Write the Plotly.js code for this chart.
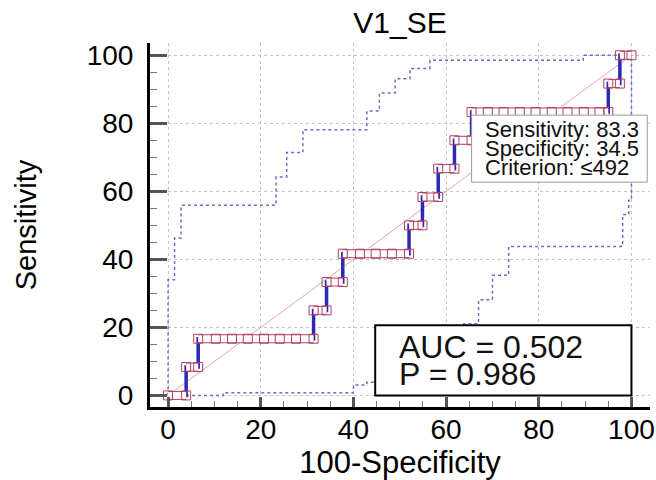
<!DOCTYPE html>
<html><head><meta charset="utf-8">
<script src="https://cdn.plot.ly/plotly-3.0.1.min.js"></script>
<style>html,body{margin:0;padding:0;background:#fff}#chart{width:656px;height:480px}</style>
</head><body><div id="chart"></div>
<script>
// ROC curve vertices (100-Specificity, Sensitivity)
const rocX = [0, 3.9, 3.9, 6.5, 6.5, 10.3, 13.8, 17.2, 20.7, 24.1, 27.6, 31.4, 31.4, 34.2, 34.2, 37.7, 37.7, 41.4, 44.8, 48.3, 52.0, 52.0, 54.9, 54.9, 58.3, 58.3, 61.8, 61.8, 65.5, 65.5, 69.0, 72.4, 75.9, 79.3, 82.8, 86.2, 89.7, 93.1, 95.0, 95.0, 97.5, 97.5, 100];
const rocY = [0, 0, 8.33, 8.33, 16.67, 16.67, 16.67, 16.67, 16.67, 16.67, 16.67, 16.67, 25, 25, 33.33, 33.33, 41.67, 41.67, 41.67, 41.67, 41.67, 50, 50, 58.33, 58.33, 66.67, 66.67, 75, 75, 83.33, 83.33, 83.33, 83.33, 83.33, 83.33, 83.33, 83.33, 83.33, 83.33, 91.67, 91.67, 100, 100];
// 95% confidence bounds
const upperX = [0, 0, 1.4, 1.4, 2.8, 2.8, 23.3, 23.3, 25.6, 25.6, 29.1, 29.1, 42.9, 42.9, 45.6, 45.6, 49.0, 49.0, 52.2, 52.2, 56.5, 56.5, 89.6, 89.6, 100];
const upperY = [0, 34, 34, 46.3, 46.3, 55.9, 55.9, 64.2, 64.2, 71.4, 71.4, 78.1, 78.1, 83.6, 83.6, 88.9, 88.9, 93.1, 93.1, 96.1, 96.1, 98.5, 98.5, 100, 100];
const lowerX = [0, 11.9, 11.9, 40.0, 40.0, 42.9, 42.9, 63.8, 63.8, 67.0, 67.0, 70.0, 70.0, 73.5, 73.5, 98.1, 98.1, 99.4, 99.4, 100, 100];
const lowerY = [0, 0, 0.8, 0.8, 3.1, 3.1, 3.9, 3.9, 21.1, 21.1, 28.1, 28.1, 35.3, 35.3, 43.8, 43.8, 53.2, 53.2, 57.4, 57.4, 100];
const diagX = [0, 100];
const diagY = [0, 100];
const tickVals = [0, 20, 40, 60, 80, 100];
const tickText = ['0', '20', '40', '60', '80', '100'];
const statLines = ['AUC = 0.502', 'P = 0.986'];
const critLines = ['Sensitivity: 83.3', 'Specificity: 34.5', 'Criterion: \u2264492'];

// build the horizontal runs of the ROC curve (for the box strips)
const barX = [], barY = [];
let start = 0;
for (let i = 1; i <= rocX.length; i++) {
  if (i === rocX.length || rocY[i] !== rocY[start]) {
    barX.push(rocX[start], rocX[i - 1], null);
    barY.push(rocY[start], rocY[i - 1], null);
    start = i;
  }
}

const FONT = 'Liberation Sans, Arial, sans-serif';
const pink = '#b0405e';
const traces = [
  {x: diagX, y: diagY, mode: 'lines', line: {color: '#e6a4a8', width: 1}, hoverinfo: 'skip'},
  {x: upperX, y: upperY, mode: 'lines', line: {color: '#6c6cc8', width: 1.5, dash: 'dot'}},
  {x: lowerX, y: lowerY, mode: 'lines', line: {color: '#6c6cc8', width: 1.5, dash: 'dot'}},
  {x: rocX, y: rocY, mode: 'lines', line: {color: '#2a2ab2', width: 3.5}},
  {x: barX, y: barY, mode: 'lines', line: {color: pink, width: 9}, connectgaps: false},
  {x: barX, y: barY, mode: 'lines', line: {color: '#ffffff', width: 7}, connectgaps: false},
  {x: rocX, y: rocY, mode: 'markers', marker: {symbol: 'square-open', size: 9, color: pink, line: {width: 1, color: pink}}}
];

const annotations = [];
const statY = [14.2, 6.4];
statLines.forEach((t, i) => annotations.push({
  x: 49.4, y: statY[i], xref: 'x', yref: 'y', text: t, showarrow: false,
  xanchor: 'left', yanchor: 'middle', font: {family: FONT, size: 32, color: '#111'}
}));
const critY = [78.1, 72.5, 66.9];
critLines.forEach((t, i) => annotations.push({
  x: 67.9, y: critY[i], xref: 'x', yref: 'y', text: t, showarrow: false,
  xanchor: 'left', yanchor: 'middle', font: {family: FONT, size: 22, color: '#111'}
}));

const axisCommon = {
  tickmode: 'array', tickvals: tickVals, ticktext: tickText,
  showline: true, linecolor: '#000', linewidth: 3, zeroline: false,
  showgrid: true, gridcolor: '#c4c4c4', griddash: 'dot', gridwidth: 1,
  ticks: 'inside', tickcolor: '#555', tickwidth: 3,
  tickfont: {family: FONT, size: 28, color: '#000'},
  minor: {tickmode: 'linear', tick0: 0, dtick: 5, ticks: 'inside', tickcolor: '#777', tickwidth: 1, showgrid: false},
  fixedrange: true
};

const layout = {
  width: 656, height: 480,
  margin: {l: 150, r: 6, t: 43, b: 73, pad: 0},
  paper_bgcolor: '#fff', plot_bgcolor: '#fff',
  showlegend: false,
  title: {text: 'V1_SE', x: 0.5, xref: 'paper', xanchor: 'center', y: 0.954, yref: 'container', yanchor: 'middle',
          font: {family: FONT, size: 30, color: '#000'}},
  xaxis: Object.assign({}, axisCommon, {
    range: [-3.9, 104], ticklen: 10, minor: Object.assign({}, axisCommon.minor, {ticklen: 6}),
    ticklabelstandoff: -5,
    title: {text: '100-Specificity', font: {family: FONT, size: 31, color: '#000'}, standoff: 4}
  }),
  yaxis: Object.assign({}, axisCommon, {
    range: [-3.4, 103.6], ticklen: 17, minor: Object.assign({}, axisCommon.minor, {ticklen: 7}),
    ticklabelstandoff: 8,
    title: {text: 'Sensitivity', font: {family: FONT, size: 29, color: '#000'}, standoff: 42}
  }),
  shapes: [
    {type: 'rect', xref: 'x', yref: 'y', x0: 44.7, x1: 100, y0: 0, y1: 20.6, layer: 'above',
     line: {color: '#000', width: 2}, fillcolor: '#fff'},
    {type: 'rect', xref: 'x', yref: 'y', x0: 65.5, x1: 103.4, y0: 62.7, y1: 82.4, layer: 'above',
     line: {color: '#999', width: 1}, fillcolor: '#fff'}
  ],
  annotations: annotations
};

Plotly.newPlot('chart', traces, layout, {staticPlot: true, displayModeBar: false});
</script></body></html>
